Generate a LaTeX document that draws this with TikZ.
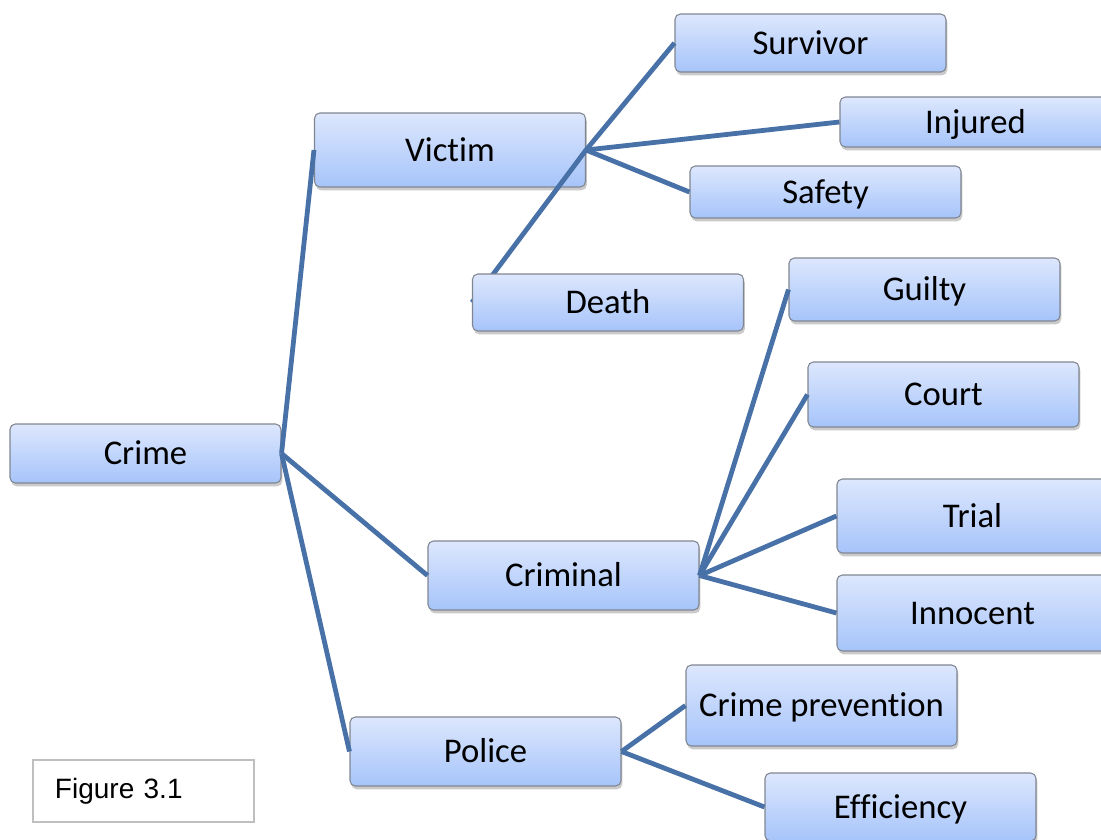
\documentclass[tikz,border=0pt]{standalone}
\usepackage{fontspec}
\setmainfont{Carlito}[RawFeature={-liga;-clig;-dlig;-calt}]
\newfontfamily\figfont{Liberation Sans}
\usetikzlibrary{shadows}
\definecolor{boxtop}{RGB}{221,231,253}
\definecolor{boxbottom}{RGB}{166,196,250}
\definecolor{boxline}{RGB}{128,134,145}
\definecolor{linkblue}{RGB}{72,113,168}
\pgfdeclarelayer{front}
\pgfsetlayers{main,front}

\begin{document}
\begin{tikzpicture}[x=0.75pt, y=-0.75pt,
  box/.style={draw=boxline, line width=0.8pt, rounded corners=4pt,
    top color=boxtop, bottom color=boxbottom, minimum width=203.25pt,
    inner sep=0pt, font=\fontsize{26}{30}\selectfont,
    text height=16.7pt, text depth=0pt,
    drop shadow={shadow xshift=1pt, shadow yshift=-2.5pt, opacity=0.35, fill=black!60}},
  link/.style={draw=linkblue, line width=3.6pt},
  figbox/.style={draw=black!25, line width=1.2pt, minimum height=46.5pt,
    text width=132.75pt, inner xsep=16.5pt, align=left,
    font=\figfont\fontsize{21}{25}\selectfont}]
			%%%%% START %%%%%
			\useasboundingbox (0,0) rectangle (1101,840);
			\clip (0,0) rectangle (1101,840);
			
			\node[box, minimum height=44.25pt] (crime) at (145.5, 453.5) {Crime};
			
			\node[box, minimum height=55.5pt] (victim) at (450, 150) {Victim};
			\node[box, minimum height=43.5pt] (survivor) at (810.5, 43) {Survivor};
			\node[box, minimum height=37.5pt] (injured) at (975.5, 122) {Injured};
			\node[box, minimum height=39pt] (safety) at (825.5, 192) {Safety};
			\begin{pgfonlayer}{front}
			\node[box, minimum height=42.75pt] (death) at (608, 302.5) {Death};
			\end{pgfonlayer}
			
			\node[box, minimum height=51.75pt] (criminal) at (563.5, 575.5) {Criminal};
			\node[box, minimum height=47.25pt] (guilty) at (924.5, 289.5) {Guilty};
			\node[box, minimum height=48.75pt] (court) at (943.5, 394.5) {Court};
			\node[box, minimum height=55.5pt] (trial) at (972.5, 516) {Trial};
			\node[box, minimum height=57pt] (innocent) at (972.5, 613) {Innocent};
			
			\node[box, minimum height=51.75pt] (police) at (485.5, 751.5) {Police};
			\node[box, minimum height=60.75pt] (prevention) at (821.5, 705.5) {Crime prevention};
			\node[box, minimum height=51pt] (efficiency) at (900.5, 807) {Efficiency};
			
			\node[figbox] (figlabel) at (143.5, 791) {Figure 3.1};
			
			\draw[link] (crime.east) -- (victim.west);
			\draw[link] (crime.east) -- (criminal.west);
			\draw[link] (crime.east) -- (police.west);
			
			\draw[link] (victim.east) -- (survivor.west);
			\draw[link] (victim.east) -- (injured.west);
			\draw[link] (victim.east) -- (safety.west);
			\draw[link] (victim.east) -- (death.west);
			
			\draw[link] (criminal.east) -- (guilty.west);
			\draw[link] (criminal.east) -- (court.west);
			\draw[link] (criminal.east) -- (trial.west);
			\draw[link] (criminal.east) -- (innocent.west);
			
			\draw[link] (police.east) -- (prevention.west);
			\draw[link] (police.east) -- (efficiency.west);
			
			%%%%% END %%%%%
\end{tikzpicture}
\end{document}
